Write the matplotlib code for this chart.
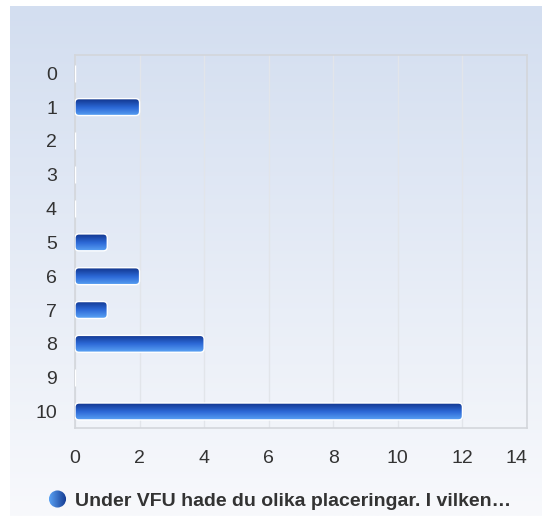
import numpy as np
import matplotlib
matplotlib.use("Agg")
import matplotlib.pyplot as plt
from matplotlib.patches import FancyBboxPatch, Ellipse
from matplotlib.colors import to_rgb
from matplotlib.transforms import offset_copy

categories = ["0", "1", "2", "3", "4", "5", "6", "7", "8", "9", "10"]
values = [0, 2, 0, 0, 0, 1, 2, 1, 4, 0, 12]
x_ticks = [0, 2, 4, 6, 8, 10, 12, 14]
legend_label = "Under VFU hade du olika placeringar. I vilken…"

plt.rcParams['font.family'] = ['Liberation Sans', 'DejaVu Sans']

W, H = 542, 516
fig = plt.figure(figsize=(W / 100, H / 100), dpi=100)
fig.patch.set_facecolor("white")

# background gradient panel
bg = fig.add_axes([10 / W, 0, 532 / W, 510 / H])
bg.set_axis_off()
top_c = np.array(to_rgb("#d3def0"))
bot_c = np.array(to_rgb("#f8f9fc"))
t = np.linspace(0, 1, 256)[:, None, None]
grad = top_c * (1 - t) + bot_c * t
bg.imshow(grad, aspect="auto", extent=(0, 1, 0, 1), origin="upper")
bg.set_xlim(0, 1)
bg.set_ylim(0, 1)

# main plot
left, right, top, bottom = 75, 527, 55, 427.7
ax = fig.add_axes([left / W, 1 - bottom / H, (right - left) / W, (bottom - top) / H])
ax.patch.set_alpha(0)
y = np.arange(len(categories))
bar_h = 0.5
bars = ax.barh(y, values, height=bar_h, facecolor="none", edgecolor="white", linewidth=1.0, zorder=3)

xmin, xmax = 0, 14
ymin, ymax = 10.48, -0.54
ax.set_xlim(xmin, xmax)
ax.set_ylim(ymin, ymax)

# bar gradient
c_top = np.array(to_rgb("#12378f"))
c_mid = np.array(to_rgb("#2c68d6"))
c_bot = np.array(to_rgb("#5aa2f4"))
tt = np.linspace(0, 1, 64)
cols = []
for v in tt:
    if v < 0.5:
        cols.append(c_top * (1 - v / 0.5) + c_mid * (v / 0.5))
    else:
        cols.append(c_mid * (1 - (v - 0.5) / 0.5) + c_bot * ((v - 0.5) / 0.5))
bar_grad = np.array(cols)[:, None, :]

px_x = (xmax - xmin) / (right - left)
px_y = (ymin - ymax) / (bottom - top)
for b, v in zip(bars, values):
    if v <= 0:
        continue
    x0, y0 = b.get_x(), b.get_y()
    w, h = b.get_width(), b.get_height()
    b.set_visible(False)
    patch = FancyBboxPatch((x0, y0), w, h,
                           boxstyle=f"round,pad=0,rounding_size={4 * px_x}",
                           mutation_aspect=px_y / px_x,
                           facecolor="none", edgecolor="white", linewidth=1.0, zorder=4)
    ax.add_patch(patch)
    im = ax.imshow(bar_grad, aspect="auto", extent=(x0, x0 + w, y0 + h, y0),
                   origin="upper", zorder=3.5, interpolation="bilinear")
    im.set_clip_path(patch)

ax.set_xlim(xmin, xmax)
ax.set_ylim(ymin, ymax)

ax.set_xticks(x_ticks)
ax.set_xticklabels([str(v) for v in x_ticks])
ax.set_yticks(y)
ax.set_yticklabels(categories)
ax.tick_params(axis="both", length=0, labelsize=14, colors="#333333")
ax.tick_params(axis="x", pad=16)
ax.tick_params(axis="y", pad=13)
xl = ax.get_xticklabels()
xl[-1].set_transform(offset_copy(xl[-1].get_transform(), fig=fig, x=-11, units="dots"))

ax.grid(axis="x", color="#e2e5ea", linewidth=1, zorder=0)
ax.set_axisbelow(True)
for s in ax.spines.values():
    s.set_color("#d3d6db")
    s.set_linewidth(1.2)

# legend
lx, ly, r = 57.5, 499, 9
circ = fig.add_axes([(lx - r) / W, 1 - (ly + r) / H, 2 * r / W, 2 * r / H])
circ.set_axis_off()
cg = np.array([c_bot * (1 - s) + c_top * s for s in np.linspace(0, 1, 64)])[None, :, :]
img = circ.imshow(cg, aspect="auto", extent=(0, 1, 0, 1))
e = Ellipse((0.5, 0.5), 0.95, 0.95, transform=circ.transAxes, facecolor="none", edgecolor="none")
circ.add_patch(e)
img.set_clip_path(e)
circ.set_xlim(0, 1)
circ.set_ylim(0, 1)
fig.text(75 / W, 1 - 501 / H, legend_label, fontsize=14, fontweight="bold",
         color="#333333", ha="left", va="center")

fig.savefig("out.png", dpi=100)
